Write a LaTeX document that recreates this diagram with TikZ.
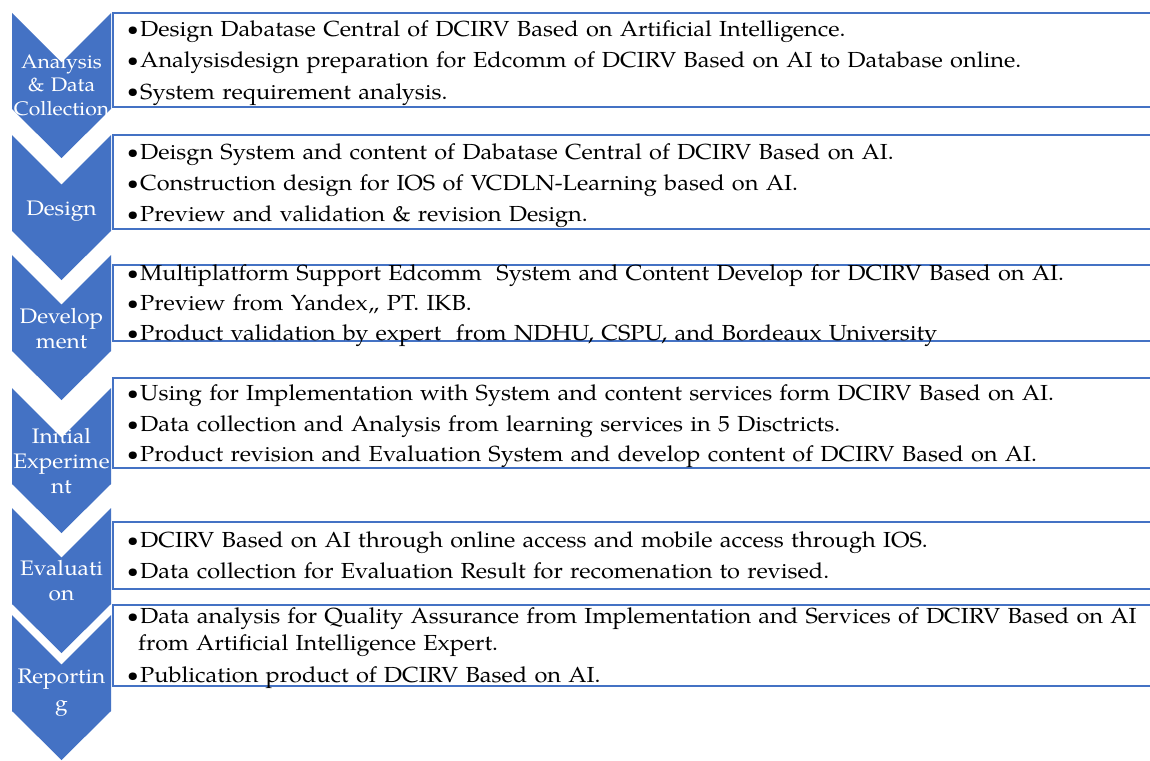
\documentclass[tikz,border=0pt]{standalone}
\usepackage{fontspec}
\setmainfont{TeX Gyre Pagella}[FakeStretch=1.08]
\definecolor{chevblue}{HTML}{4472C4}
\begin{document}
\begin{tikzpicture}[x=1pt,y=-1pt,
  chev/.style={fill=chevblue,draw=none},
  boxline/.style={draw=chevblue,line width=2pt,fill=white},
  lab/.style={text=white,font=\fontsize{21}{25}\selectfont,text width=112pt,align=center,inner sep=0pt,anchor=base},
  item/.style={font=\fontsize{21.8}{27}\selectfont,text width=1040pt,align=left,inner sep=0pt,anchor=base west}]
\useasboundingbox[fill=white] (0,0) rectangle (1150,760);
\newcommand{\bul}{\makebox[13pt][l]{\raisebox{1pt}{\fontsize{19}{19}\selectfont\textbullet}}}
% chevrons: tops
\foreach \t in {13,135,255,388,508,615}{
  \path[chev] (12,\t) -- (61.5,\t+49.5) -- (111,\t) -- (111,\t+96) -- (61.5,\t+145) -- (12,\t+96) -- cycle;
}
% boxes
\path[boxline] (113,13) rectangle (1160,107);
\path[boxline] (113,135) rectangle (1160,229);
\path[boxline] (113,265) rectangle (1160,341);
\path[boxline] (113,378) rectangle (1160,468);
\path[boxline] (113,522) rectangle (1160,589);
\path[boxline] (113,605) rectangle (1160,686);
% labels
\node[lab,font=\fontsize{19.6}{23.5}\selectfont] (l1) at (61.5,68) {Analysis\\\& Data\\Collection};
\node[lab] (l2) at (61.5,215) {Design};
\node[lab] (l3) at (61.5,323) {Develop\\ment};
\node[lab] (l4) at (61.5,443) {Initial\\Experime\\nt};
\node[lab] (l5) at (61.5,575) {Evaluati\\on};
\node[lab,font=\fontsize{21}{27}\selectfont] (l6) at (61.5,683) {Reportin\\g};
% items
\node[item] (t1) at (127,37) {\bul Design Dabatase Central of DCIRV Based on Artificial Intelligence.\\[4pt]
\bul Analysisdesign preparation for Edcomm of DCIRV Based on AI to Database online.\\[4pt]
\bul System requirement analysis.};
\node[item] (t2) at (127,159) {\bul Deisgn System and content of Dabatase Central of DCIRV Based on AI.\\[4pt]
\bul Construction design for IOS of VCDLN-Learning based on AI.\\[4pt]
\bul Preview and validation \& revision Design.};
\node[item] (t3) at (127,280) {\bul Multiplatform Support Edcomm\ \ System and Content Develop for DCIRV Based on AI.\\[3pt]
\bul Preview from Yandex,, PT. IKB.\\[3pt]
\bul Product validation by expert\ \ from NDHU, CSPU, and Bordeaux University};
\node[item] (t4) at (127,400) {\bul Using for Implementation with System and content services form DCIRV Based on AI.\\[4pt]
\bul Data collection and Analysis from learning services in 5 Disctricts.\\[3pt]
\bul Product revision and Evaluation System and develop content of DCIRV Based on AI.};
\node[item] (t5) at (127,547) {\bul DCIRV Based on AI through online access and mobile access through IOS.\\[4pt]
\bul Data collection for Evaluation Result for recomenation to revised.};
\node[item] (t6) at (127,623) {\bul Data analysis for Quality Assurance from Implementation and Services of DCIRV Based on AI\\
\hspace*{11pt}from Artificial Intelligence Expert.\\[5pt]
\bul Publication product of DCIRV Based on AI.};
\end{tikzpicture}
\end{document}
